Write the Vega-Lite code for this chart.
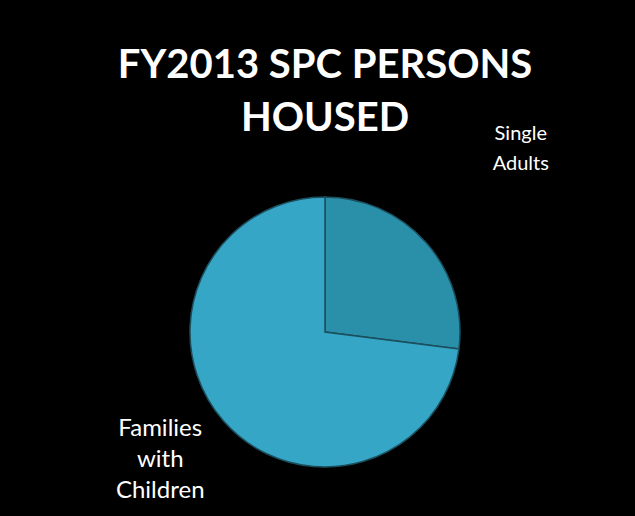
{
  "$schema": "https://vega.github.io/schema/vega-lite/v6.json",
  "width": 270,
  "height": 270,
  "autosize": "none",
  "padding": {"left": 190, "top": 197, "right": 175, "bottom": 49},
  "background": "black",
  "title": {
    "text": ["FY2013 SPC PERSONS", "HOUSED"],
    "font": "Lato",
    "fontSize": 40,
    "fontWeight": "bold",
    "color": "white",
    "lineHeight": 53,
    "anchor": "middle",
    "frame": "group",
    "offset": -15
  },
  "config": {"view": {"stroke": null}},
  "data": {
    "values": [
      {"category": "Single Adults", "label": ["Single", "Adults"], "value": 27},
      {"category": "Families with Children", "label": ["Families", "with", "Children"], "value": 73}
    ]
  },
  "encoding": {
    "theta": {"field": "value", "type": "quantitative", "stack": true},
    "order": {"field": "category", "sort": "descending"}
  },
  "layer": [
    {
      "mark": {"type": "arc", "outerRadius": 135, "stroke": "#1c4f5e", "strokeWidth": 1.5},
      "encoding": {
        "color": {
          "field": "category",
          "type": "nominal",
          "scale": {"domain": ["Single Adults", "Families with Children"], "range": ["#2a8fa8", "#36a6c6"]},
          "legend": null
        }
      }
    },
    {
      "mark": {"type": "text", "radius": 269, "dx": -6, "dy": -20, "font": "Lato", "fontSize": 20, "color": "white", "lineHeight": 30, "align": "center", "baseline": "middle"},
      "encoding": {
        "text": {"condition": {"test": "datum.category == 'Single Adults'", "field": "label"}, "value": ""}
      }
    },
    {
      "mark": {"type": "text", "radius": 209, "dx": -8, "dy": -41, "font": "Lato", "fontSize": 24, "color": "white", "lineHeight": 31, "align": "center", "baseline": "middle"},
      "encoding": {
        "text": {"condition": {"test": "datum.category == 'Families with Children'", "field": "label"}, "value": ""}
      }
    }
  ]
}
